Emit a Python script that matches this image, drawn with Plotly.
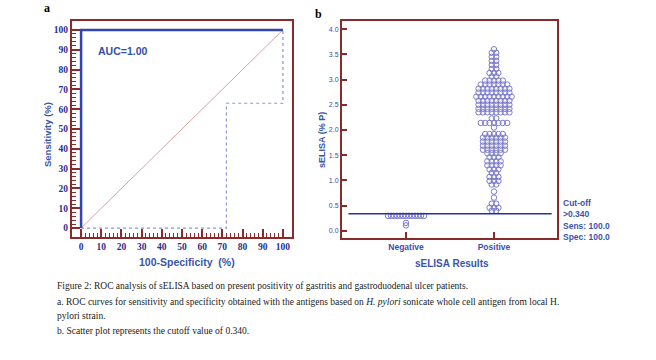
import plotly.graph_objects as go

W, H = 656, 360

# ---------------- data ----------------
# Panel a: ROC curve
roc_x = [0, 0, 100]
roc_y = [0, 100, 100]
ci_x = [0, 72, 72, 100, 100]
ci_y = [0, 0, 63, 63, 100]
ref_x = [0, 100]
ref_y = [0, 100]
auc_text = "AUC=1.00"

# Panel b: dot plot rows (value, number of dots at that level)
categories = ["Negative", "Positive"]
neg_row_values = [0.30, 0.16, 0.11]
neg_row_counts = [13, 1, 1]
pos_row_values = [3.60, 3.53, 3.45, 3.37, 3.29, 3.21, 3.13, 3.06,
                  2.98, 2.90, 2.82, 2.74, 2.66, 2.58, 2.50, 2.42, 2.35,
                  2.23, 2.14, 2.05,
                  1.92, 1.85, 1.77, 1.69, 1.61, 1.54,
                  1.46, 1.38, 1.30, 1.22, 1.15, 1.07, 0.99, 0.92,
                  0.78, 0.66, 0.54, 0.46, 0.40]
pos_row_counts = [1, 2, 2, 2, 2, 2, 3, 2,
                  5, 7, 8, 8, 9, 8, 8, 8, 8,
                  2, 7, 1,
                  5, 6, 6, 6, 6, 4,
                  3, 4, 4, 3, 2, 3, 3, 2,
                  1, 1, 2, 3, 2]
cutoff = 0.34
cutoff_lines = ["Cut-off", ">0.340", "Sens: 100.0", "Spec: 100.0"]

caption_lines = [
    "Figure 2: ROC analysis of sELISA based on present positivity of gastritis and gastroduodenal ulcer patients.",
    "a. ROC curves for sensitivity and specificity obtained with the antigens based on <i>H. pylori</i> sonicate whole cell antigen from local H.",
    "pylori strain.",
    "b. Scatter plot represents the cutoff value of 0.340.",
]

# ---------------- styles ----------------
FRAME = "#8b2a2a"
BLUE_T = "#3a55a8"
NAVY = "#2d2d8c"
DOT = "#7b7bcc"


def px_x(p):
    return p / W


def px_y(p):
    return 1 - p / H


def swarm(values, counts, center, spacing):
    xs, ys = [], []
    for v, n in zip(values, counts):
        for i in range(n):
            xs.append(center + (i - (n - 1) / 2) * spacing)
            ys.append(v)
    return xs, ys


fig = go.Figure()

# Panel a traces
fig.add_trace(go.Scatter(x=ref_x, y=ref_y, mode="lines",
                         line=dict(color="#d9a3a3", width=1),
                         xaxis="x", yaxis="y", hoverinfo="skip"))
fig.add_trace(go.Scatter(x=ci_x, y=ci_y, mode="lines",
                         line=dict(color="#8a96d6", width=1.2, dash="dot"),
                         xaxis="x", yaxis="y", hoverinfo="skip"))
fig.add_trace(go.Scatter(x=roc_x, y=roc_y, mode="lines",
                         line=dict(color="#3344b0", width=2.5),
                         xaxis="x", yaxis="y"))

# Panel b traces
nx, ny = swarm(neg_row_values, neg_row_counts, 0, 0.034)
px_, py_ = swarm(pos_row_values, pos_row_counts, 1, 0.05)
fig.add_trace(go.Scatter(x=nx + px_, y=ny + py_, mode="markers",
                         marker=dict(symbol="circle-open", size=5.5,
                                     color=DOT, line=dict(width=1, color=DOT)),
                         xaxis="x2", yaxis="y2"))

frame_common = dict(showline=True, linecolor=FRAME, linewidth=2, mirror=True,
                    showgrid=False, zeroline=False, tickcolor=FRAME, tickwidth=1.5,
                    automargin=False)

fig.update_layout(
    template="none",
    width=W, height=H,
    margin=dict(l=0, r=0, t=0, b=0, pad=0),
    paper_bgcolor="white", plot_bgcolor="white",
    showlegend=False,
    xaxis=dict(domain=[px_x(72), px_x(292)], range=[-4.5, 104.5],
               tickmode="array", tickvals=list(range(0, 101, 10)),
               ticks="inside", ticklen=8,
               minor=dict(tickmode="array", tickvals=list(range(0, 101, 2)),
                          ticks="inside", ticklen=4, tickcolor=FRAME, tickwidth=1),
               tickfont=dict(family="Liberation Serif", size=9.5, color=NAVY, weight="bold"),
               anchor="y", **frame_common),
    yaxis=dict(domain=[px_y(237), px_y(21)], range=[-4.5, 104.5],
               tickmode="array", tickvals=list(range(0, 101, 10)),
               ticks="inside", ticklen=8,
               minor=dict(tickmode="array", tickvals=list(range(0, 101, 2)),
                          ticks="inside", ticklen=4, tickcolor=FRAME, tickwidth=1),
               tickfont=dict(family="Liberation Serif", size=9.5, color=NAVY, weight="bold"),
               anchor="x", **frame_common),
    xaxis2=dict(domain=[px_x(342), px_x(557)], range=[-0.727, 1.716],
                tickmode="array", tickvals=[0, 1], ticktext=categories,
                ticks="inside", ticklen=6,
                tickfont=dict(family="Liberation Sans", size=8.5, color="#4050a8", weight="bold"),
                anchor="y2", **frame_common),
    yaxis2=dict(domain=[px_y(238), px_y(21)], range=[-0.14, 4.16],
                tickmode="array", tickvals=[0, 0.5, 1, 1.5, 2, 2.5, 3, 3.5, 4],
                ticktext=["0.0", "0.5", "1.0", "1.5", "2.0", "2.5", "3.0", "3.5", "4.0"],
                ticks="inside", ticklen=5,
                tickfont=dict(family="Liberation Sans Narrow, Liberation Sans", size=7, color="#4848a8"),
                anchor="x2", **frame_common),
)

# cutoff line
fig.add_shape(type="line", xref="x2 domain", yref="y2", x0=0.03, x1=0.975,
              y0=cutoff, y1=cutoff, line=dict(color="#2233a0", width=1.5))


def txt_ann(x, y, text, font, angle=0, xanchor="center", xref="paper", yref="paper"):
    return dict(x=x, y=y, xref=xref, yref=yref, text=text, showarrow=False,
                xanchor=xanchor, yanchor="middle", textangle=angle, font=font)


ann = []
ann.append(txt_ann(7.4, 89.5, auc_text,
                   dict(family="Liberation Sans", size=10.5, color="#3350a8", weight="bold"),
                   xanchor="left", xref="x", yref="y"))
ann.append(txt_ann(px_x(187), px_y(262), "100-Specificity  (%)",
                   dict(family="Liberation Sans", size=10.5, color=BLUE_T, weight="bold")))
ann.append(txt_ann(px_x(47), px_y(134), "Sensitivity (%)",
                   dict(family="Liberation Sans", size=9.5, color=BLUE_T, weight="bold"), angle=-90))
ann.append(txt_ann(px_x(452), px_y(263), "sELISA Results",
                   dict(family="Liberation Sans", size=10, color=BLUE_T, weight="bold")))
ann.append(txt_ann(px_x(322), px_y(140), "sELISA (% P)",
                   dict(family="Liberation Sans", size=9, color=BLUE_T, weight="bold"), angle=-90))
ann.append(txt_ann(px_x(47), px_y(8), "a",
                   dict(family="Liberation Serif", size=12, color="black", weight="bold")))
ann.append(txt_ann(px_x(318), px_y(14), "b",
                   dict(family="Liberation Serif", size=12, color="black", weight="bold")))
for t, yp in zip(cutoff_lines, [203, 214, 226, 237]):
    ann.append(txt_ann(px_x(561), px_y(yp), t,
                       dict(family="Liberation Sans", size=8.5, color="#3a55a8", weight="bold"),
                       xanchor="left"))
for t, yp in zip(caption_lines, [286, 302, 316, 331]):
    ann.append(txt_ann(px_x(55), px_y(yp), t,
                       dict(family="Liberation Serif", size=9.5, color="#222222"),
                       xanchor="left"))

fig.update_layout(annotations=ann)
fig.write_html("out.html",
               config={"displayModeBar": False},
               post_script="document.body.style.margin='0';document.body.style.overflow='hidden';")
